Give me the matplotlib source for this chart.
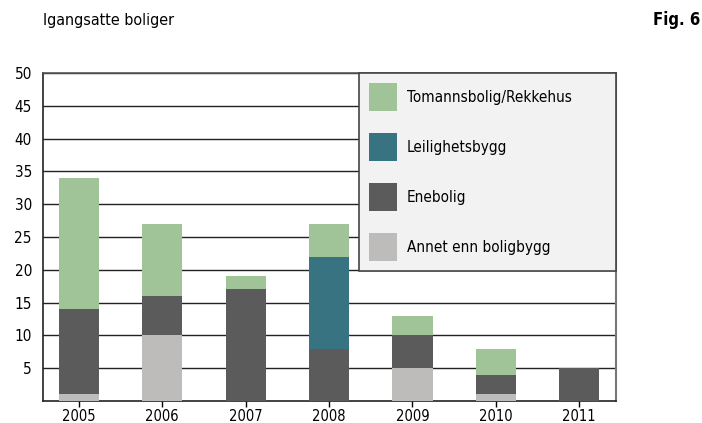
import numpy as np
import matplotlib
matplotlib.use("Agg")
import matplotlib.pyplot as plt

plt.rcParams['font.family'] = ['DejaVu Sans']
plt.rcParams['font.stretch'] = 'condensed'

# data
years = ['2005', '2006', '2007', '2008', '2009', '2010', '2011']
annet = [1, 10, 0, 0, 5, 1, 0]
enebolig = [13, 6, 17, 8, 5, 3, 5]
leilighet = [0, 0, 0, 14, 0, 0, 0]
tomanns = [20, 11, 2, 5, 3, 4, 0]

series = [
    ('Annet enn boligbygg', annet, '#bdbcbb'),
    ('Enebolig', enebolig, '#5a5b5a'),
    ('Leilighetsbygg', leilighet, '#377380'),
    ('Tomannsbolig/Rekkehus', tomanns, '#a1c398'),
]

fig = plt.figure(figsize=(7.02, 4.23), dpi=100)
ax = fig.add_axes([43 / 702, 1 - 401 / 423, 573 / 702, 328 / 423])

x = np.arange(len(years))
bottom = np.zeros(len(years))
handles = []
for name, vals, col in series:
    b = ax.bar(x, vals, width=0.48, bottom=bottom, color=col, label=name, zorder=3)
    handles.append(b)
    bottom += np.array(vals)

ax.set_xlim(-0.43, 6.44)
ax.set_ylim(0, 50)
ax.set_yticks(np.arange(5, 51, 5))
ax.set_xticks(x)
ax.set_xticklabels(years)
ax.yaxis.grid(True, color='#222222', linewidth=1.0, zorder=0)
ax.set_axisbelow(True)
ax.tick_params(axis='y', length=0, pad=8, labelsize=11)
ax.tick_params(axis='x', length=4, width=1, direction='out', pad=1.5, labelsize=10.5)

for s in ['left', 'bottom']:
    ax.spines[s].set_color('#222222')
    ax.spines[s].set_linewidth(1.2)
ax.spines['right'].set_color('#777777')
ax.spines['right'].set_linewidth(1.5)
ax.spines['top'].set_color('#555555')
ax.spines['top'].set_linewidth(1.2)

leg = ax.legend(handles[::-1], [s[0] for s in series][::-1],
                loc='upper left', bbox_to_anchor=(316 / 573, 0, 257 / 573, 1.0),
                mode='expand', borderaxespad=0, fontsize=11,
                handlelength=1.83, handleheight=2.44, labelspacing=1.44,
                handletextpad=0.65, borderpad=0.65, fancybox=False,
                framealpha=1, facecolor='#f2f2f2', edgecolor='#444444')
leg.get_frame().set_linewidth(1.2)
leg.set_zorder(5)

fig.text(43 / 702, 1 - 20 / 423, 'Igangsatte boliger', fontsize=11.5, va='center', ha='left')
fig.text(700 / 702, 1 - 20 / 423, 'Fig. 6', fontsize=12, fontweight='bold', va='center', ha='right')

fig.savefig('out.png', dpi=100)
